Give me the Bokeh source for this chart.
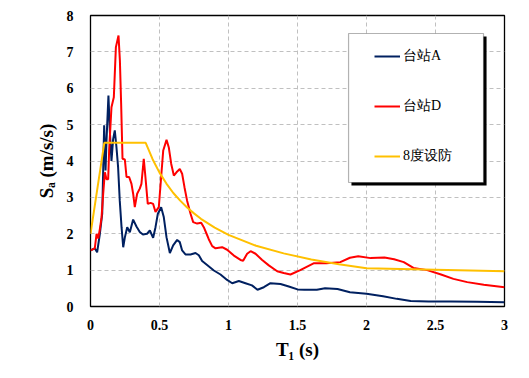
from bokeh.plotting import figure
from bokeh.models import Legend, LegendItem, BoxAnnotation, FixedTicker, Range1d
from bokeh.embed import file_html
from bokeh.resources import INLINE

# ---- data ----
t_a = [0, 0.031, 0.048, 0.068, 0.085, 0.099, 0.109, 0.116, 0.13, 0.14, 0.152, 0.164, 0.176,
       0.188, 0.2, 0.212, 0.225, 0.237, 0.249, 0.266, 0.285, 0.309, 0.333, 0.357, 0.38, 0.41,
       0.43, 0.454, 0.471, 0.488, 0.512, 0.531, 0.551, 0.575, 0.599, 0.628, 0.647, 0.664,
       0.688, 0.725, 0.761, 0.785, 0.809, 0.845, 0.894, 0.942, 0.99, 1.027, 1.075, 1.123,
       1.17, 1.21, 1.256, 1.304, 1.377, 1.437, 1.5, 1.55, 1.64, 1.7, 1.79, 1.88, 2.0, 2.12,
       2.22, 2.32, 2.45, 2.61, 2.8, 3.0]
sa_a = [1.54, 1.6, 1.49, 2.0, 2.55, 4.98, 3.74, 4.56, 5.8, 4.84, 4.0, 4.6, 4.84,
        4.38, 3.83, 2.91, 2.18, 1.63, 1.9, 2.18, 2.04, 2.39, 2.2, 2.05, 1.98, 2.0,
        2.09, 1.89, 2.18, 2.55, 2.73, 2.46, 1.9, 1.47, 1.68, 1.83, 1.77, 1.54,
        1.43, 1.43, 1.47, 1.41, 1.25, 1.14, 0.99, 0.88, 0.73, 0.64, 0.7, 0.64,
        0.58, 0.46, 0.53, 0.64, 0.62, 0.55, 0.47, 0.46, 0.46, 0.5, 0.48, 0.39, 0.35, 0.28,
        0.21, 0.15, 0.14, 0.14, 0.13, 0.12]

t_d = [0, 0.031, 0.044, 0.056, 0.068, 0.08, 0.092, 0.104, 0.116, 0.128, 0.135, 0.152, 0.169,
       0.184, 0.203, 0.213, 0.222, 0.232, 0.249, 0.261, 0.28, 0.297, 0.309, 0.321, 0.338,
       0.357, 0.369, 0.386, 0.398, 0.415, 0.435, 0.454, 0.471, 0.495, 0.512, 0.527, 0.551,
       0.567, 0.585, 0.604, 0.623, 0.647, 0.664, 0.681, 0.7, 0.725, 0.744, 0.773, 0.802,
       0.821, 0.841, 0.857, 0.882, 0.906, 0.954, 0.99, 1.039, 1.087, 1.106, 1.135, 1.16,
       1.196, 1.244, 1.292, 1.353, 1.4, 1.449, 1.52, 1.62, 1.71, 1.81, 1.88, 1.94, 2.03,
       2.13, 2.2, 2.27, 2.34, 2.44, 2.54, 2.63, 2.73, 2.85, 3.0]
sa_d = [1.54, 1.6, 2.0, 1.87, 2.13, 2.45, 3.1, 3.69, 3.5, 3.5, 4.29, 5.48, 5.75,
        7.13, 7.45, 6.76, 5.58, 4.06, 4.04, 3.56, 3.56, 3.37, 3.1, 2.73, 3.1,
        3.24, 3.37, 4.06, 3.56, 2.82, 2.85, 2.82, 2.6, 2.73, 3.56, 4.29, 4.58,
        4.38, 3.92, 3.6, 3.69, 3.78, 3.65, 3.28, 2.91, 2.55, 2.32, 2.28, 2.3,
        2.18, 2.0, 1.85, 1.66, 1.6, 1.63, 1.56, 1.4, 1.28, 1.26, 1.45, 1.52,
        1.45, 1.28, 1.13, 0.97, 0.92, 0.88, 1.0, 1.19, 1.19, 1.22, 1.34, 1.38, 1.33,
        1.35, 1.3, 1.22, 1.06, 1.0, 0.88, 0.76, 0.67, 0.6, 0.53]

t_code = [0, 0.1, 0.4, 0.45, 0.5, 0.55, 0.6, 0.65, 0.7, 0.75, 0.8, 0.9, 1.0, 1.2, 1.4,
          1.6, 1.8, 2.0, 2.5, 3.0]
sa_code = [2.0, 4.5, 4.5, 4.05, 3.68, 3.38, 3.12, 2.91, 2.72, 2.56, 2.41, 2.17, 1.97, 1.67, 1.46,
           1.29, 1.16, 1.05, 1.01, 0.97]

x_ticks = [0, 0.5, 1, 1.5, 2, 2.5, 3]
x_tick_labels = ["0", "0.5", "1", "1.5", "2", "2.5", "3"]
y_ticks = [0, 1, 2, 3, 4, 5, 6, 7, 8]
series_names = ["台站A", "台站D", "8度设防"]
series_colors = ["#002060", "#ff0000", "#ffc000"]

assert len(t_a) == len(sa_a) and len(t_d) == len(sa_d) and len(t_code) == len(sa_code)

SERIF = "Liberation Serif"

p = figure(width=529, height=378, output_backend="svg", toolbar_location=None,
           x_range=Range1d(0, 3), y_range=Range1d(0, 8),
           min_border_left=90, min_border_right=25, min_border_top=15, min_border_bottom=72,
           background_fill_color="white", border_fill_color="white")

p.outline_line_color = "black"
p.outline_line_width = 1.3

for ax in (p.xaxis[0], p.yaxis[0]):
    ax.axis_line_color = None
    ax.major_tick_line_color = None
    ax.minor_tick_line_color = None
    ax.major_tick_in = 0
    ax.major_tick_out = 0
    ax.major_label_text_font = SERIF
    ax.major_label_text_font_style = "bold"
    ax.major_label_text_font_size = "14px"
    ax.major_label_text_color = "black"
    ax.axis_label_text_font = SERIF
    ax.axis_label_text_font_style = "bold"
    ax.axis_label_text_font_size = "19px"
    ax.axis_label_text_color = "black"

p.xaxis.ticker = FixedTicker(ticks=x_ticks)
p.xaxis.major_label_overrides = {t: s for t, s in zip(x_ticks, x_tick_labels)}
p.yaxis.ticker = FixedTicker(ticks=y_ticks)
p.xaxis.major_label_standoff = 13
p.yaxis.major_label_standoff = 17
p.xaxis.axis_label = "T\u2081 (s)"
p.yaxis.axis_label = "S\u2090 (m/s/s)"
p.xaxis.axis_label_standoff = 6
p.yaxis.axis_label_standoff = 7

for g in (p.xgrid[0], p.ygrid[0]):
    g.grid_line_color = "#c0c0c0"
    g.grid_line_dash = "4 3"
    g.grid_line_width = 1

r_a = p.line(t_a, sa_a, line_color=series_colors[0], line_width=2)
r_d = p.line(t_d, sa_d, line_color=series_colors[1], line_width=2)
r_c = p.line(t_code, sa_code, line_color=series_colors[2], line_width=2)

# legend frame (shadow + white box), drawn as annotations
shadow = BoxAnnotation(left=1.891, right=2.870, top=7.423, bottom=3.326,
                       fill_color="black", fill_alpha=1, line_color=None)
box = BoxAnnotation(left=1.870, right=2.848, top=7.505, bottom=3.409,
                    fill_color="white", fill_alpha=1, line_color="black", line_width=1.2)
p.add_layout(shadow)
p.add_layout(box)

legend = Legend(items=[LegendItem(label=series_names[0], renderers=[r_a]),
                       LegendItem(label=series_names[1], renderers=[r_d]),
                       LegendItem(label=series_names[2], renderers=[r_c])],
                location=(284, 141),
                padding=0, spacing=32, glyph_height=12, label_height=12,
                glyph_width=26, label_width=70, label_standoff=3, margin=0,
                border_line_color=None, background_fill_alpha=0,
                label_text_font=SERIF, label_text_font_size="14px",
                label_text_color="black")
p.add_layout(legend)

open("out.html", "w").write(file_html(p, INLINE))
